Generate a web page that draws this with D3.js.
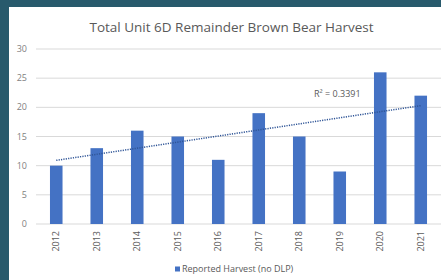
<!DOCTYPE html>
<html>
<head>
<meta charset="utf-8">
<script src="https://cdn.jsdelivr.net/npm/d3@7"></script>
<style>
  html, body { margin: 0; padding: 0; background: #285a6c; }
  svg { display: block; }
  text { font-family: "Open Sans", "Noto Sans", sans-serif; }
</style>
</head>
<body>
<svg width="441" height="280"></svg>
<script>
const years = ["2012", "2013", "2014", "2015", "2016", "2017", "2018", "2019", "2020", "2021"]
const harvest = [10, 13, 16, 15, 11, 19, 15, 9, 26, 22]
const yTicks = [0, 5, 10, 15, 20, 25, 30]
const seriesName = "Reported Harvest (no DLP)"
const title = "Total Unit 6D Remainder Brown Bear Harvest"

const barColor = "#4472c4"
const trendColor = "#2f5597"

const svg = d3.select("svg")

// white slide panel
svg.append("rect")
    .attr("x", 9).attr("y", 7)
    .attr("width", 432).attr("height", 273)
    .attr("fill", "#ffffff")

const x = d3.scaleBand().domain(years).range([36, 441]).paddingInner(0.69).paddingOuter(0.345)
const y = d3.scaleLinear().domain([0, 30]).range([224, 49])

// gridlines
svg.selectAll("line.grid")
    .data(yTicks)
    .enter()
    .append("line")
    .attr("class", "grid")
    .attr("x1", 36).attr("x2", 441)
    .attr("y1", d => y(d)).attr("y2", d => y(d))
    .attr("stroke", "#d9d9d9")
    .attr("stroke-width", 1)

// y tick labels
svg.selectAll("text.ytick")
    .data(yTicks)
    .enter()
    .append("text")
    .attr("class", "ytick")
    .attr("x", 27)
    .attr("y", d => y(d))
    .attr("dy", "0.35em")
    .attr("text-anchor", "end")
    .attr("font-size", 9)
    .attr("fill", "#7f7f7f")
    .text(d => d)

// bars
svg.selectAll("rect.bar")
    .data(harvest)
    .enter()
    .append("rect")
    .attr("class", "bar")
    .attr("x", (d, i) => x(years[i]))
    .attr("width", x.bandwidth())
    .attr("y", d => y(d))
    .attr("height", d => y(0) - y(d))
    .attr("fill", barColor)

// linear trendline (least squares on year index)
const n = harvest.length
const xm = d3.mean(harvest, (d, i) => i)
const ym = d3.mean(harvest)
const sxy = d3.sum(harvest, (d, i) => (i - xm) * (d - ym))
const sxx = d3.sum(harvest, (d, i) => (i - xm) * (i - xm))
const slope = sxy / sxx
const icpt = ym - slope * xm
const sst = d3.sum(harvest, d => (d - ym) * (d - ym))
const r2 = slope * slope * sxx / sst

const cx = i => x(years[i]) + x.bandwidth() / 2
svg.append("line")
    .attr("x1", cx(0)).attr("y1", y(icpt))
    .attr("x2", cx(n - 1)).attr("y2", y(icpt + slope * (n - 1)))
    .attr("stroke", trendColor)
    .attr("stroke-width", 1.5)
    .attr("stroke-dasharray", "1.2,1.2")

svg.append("text")
    .attr("x", 314).attr("y", 97)
    .attr("font-size", 9)
    .attr("fill", "#595959")
    .text(`R² = ${r2.toFixed(4)}`)

// x labels, rotated
svg.selectAll("text.xtick")
    .data(years)
    .enter()
    .append("text")
    .attr("class", "xtick")
    .attr("transform", d => `translate(${x(d) + x.bandwidth() / 2},231) rotate(-90)`)
    .attr("text-anchor", "end")
    .attr("dy", "0.35em")
    .attr("font-size", 9)
    .attr("fill", "#595959")
    .text(d => d)

// title
svg.append("text")
    .attr("x", 231.5).attr("y", 32)
    .attr("text-anchor", "middle")
    .attr("font-size", 13.5)
    .attr("fill", "#595959")
    .text(title)

// legend
svg.append("rect")
    .attr("x", 175).attr("y", 266.5)
    .attr("width", 5).attr("height", 5)
    .attr("fill", barColor)
svg.append("text")
    .attr("x", 182).attr("y", 269)
    .attr("dy", "0.35em")
    .attr("font-size", 9)
    .attr("fill", "#595959")
    .text(seriesName)
</script>
</body>
</html>
